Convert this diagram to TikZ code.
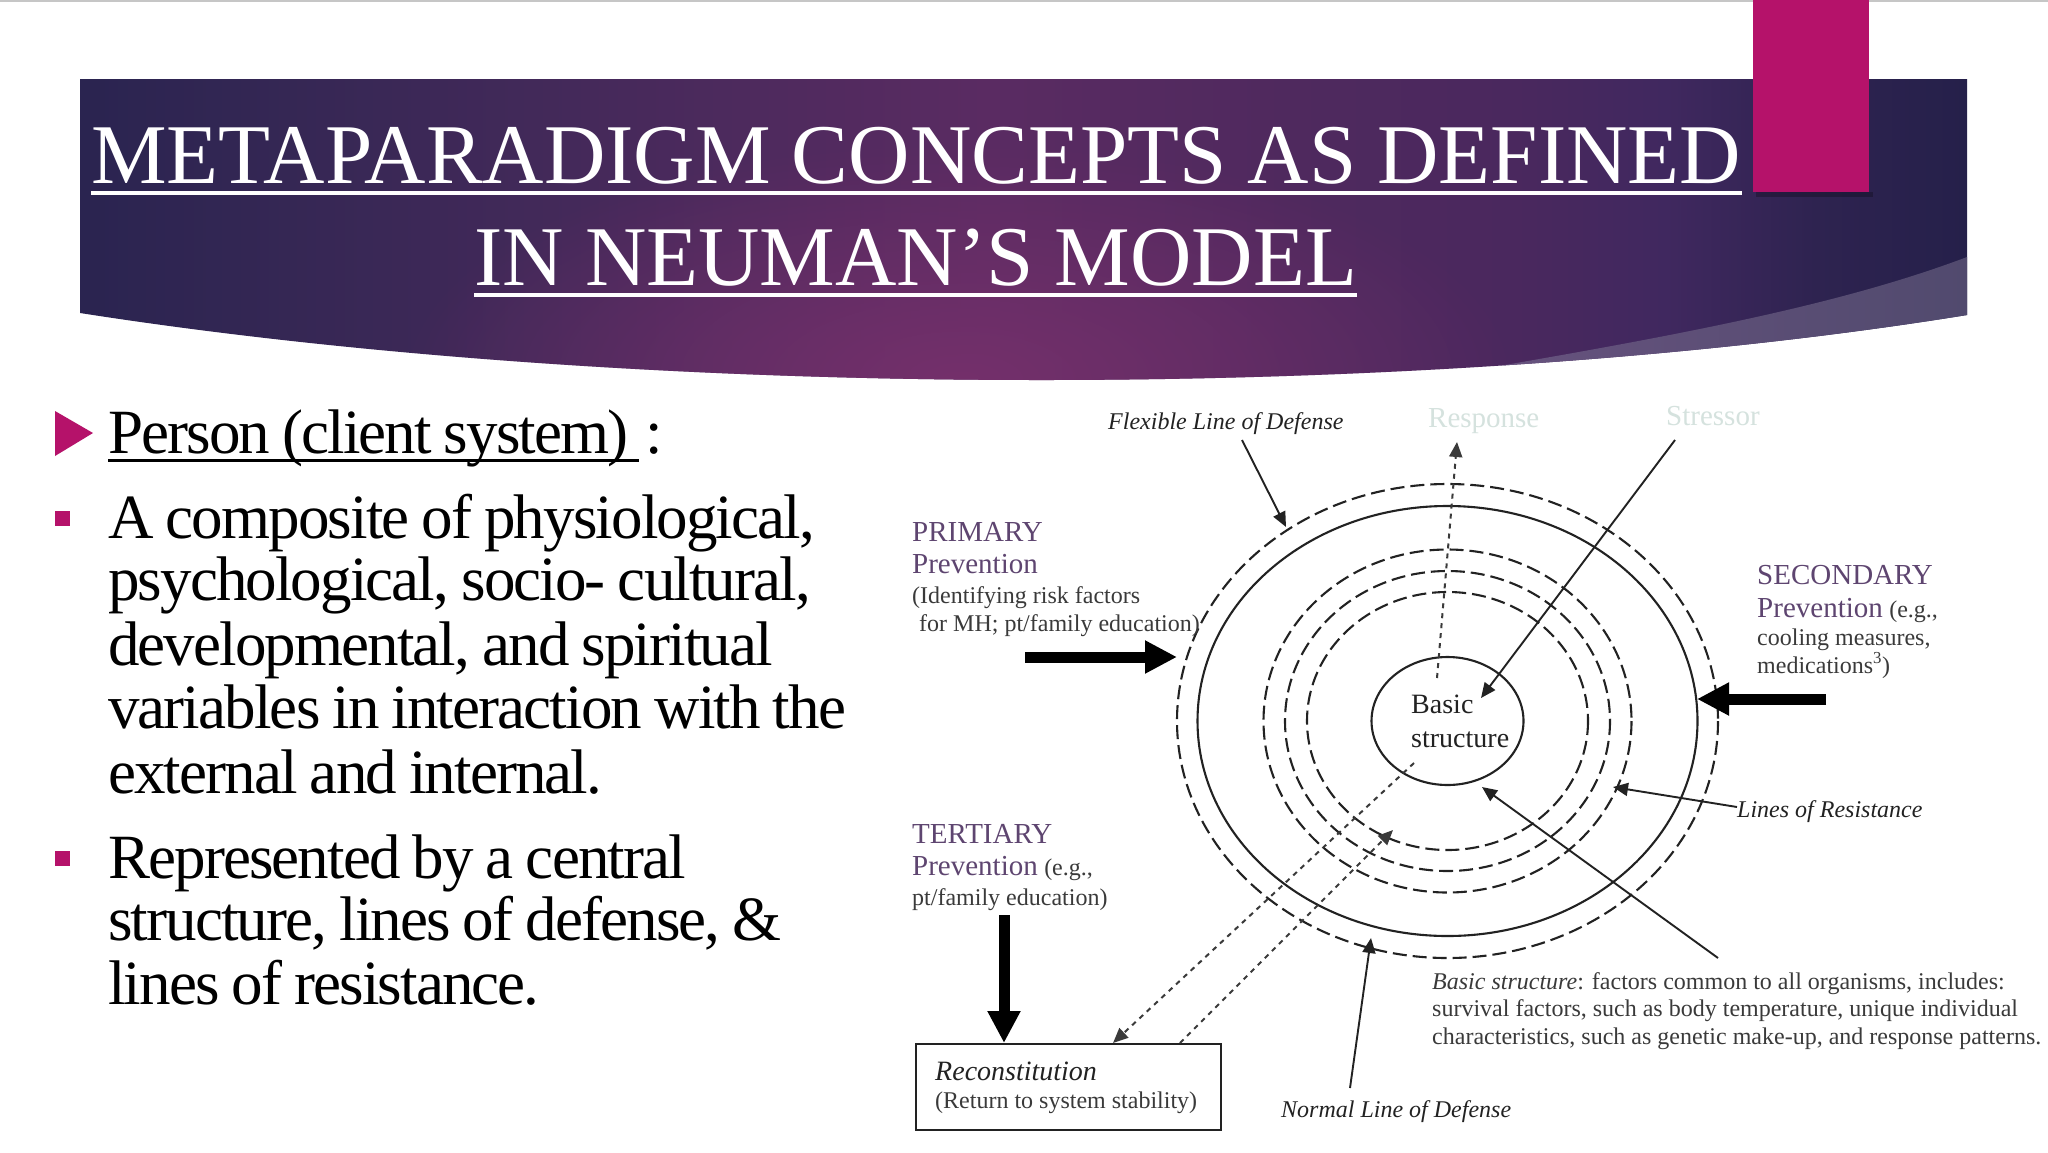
\documentclass[tikz,border=0pt]{standalone}
\usepackage{fontspec}
\usepackage{tikz}
\usepackage{xcolor}
\usetikzlibrary{arrows.meta,fadings}
\setmainfont{Liberation Serif}
\newfontfamily\bodyfont[LetterSpace=-3,WordSpace=0.87]{Liberation Serif}

\definecolor{barpink}{HTML}{B5126A}
\definecolor{inkgray}{HTML}{222222}
\definecolor{labelgray}{HTML}{3A3A3A}
\definecolor{stagepurple}{HTML}{5E4570}
\definecolor{palegreen}{HTML}{D5E2DE}
\definecolor{wedgelight}{HTML}{68537F}
\definecolor{wedgedark}{HTML}{514A6E}
\definecolor{glowtone}{HTML}{74306B}
\definecolor{bandA}{HTML}{2A2450}
\definecolor{bandB}{HTML}{3A2856}
\definecolor{bandC}{HTML}{5A2B62}
\definecolor{bandD}{HTML}{4F295E}
\definecolor{bandE}{HTML}{4A285E}
\definecolor{bandF}{HTML}{40285F}
\definecolor{bandG}{HTML}{2E2350}
\definecolor{bandH}{HTML}{25204A}

\pgfdeclarehorizontalshading{bannerfill}{100bp}{
  color(0bp)=(bandA); color(25bp)=(bandA); color(33bp)=(bandB);
  color(49bp)=(bandC); color(57bp)=(bandD); color(63bp)=(bandE);
  color(67bp)=(bandF); color(71bp)=(bandG); color(75bp)=(bandH);
  color(100bp)=(bandH)}
\tikzfading[name=glowfade,inner color=transparent!0,outer color=transparent!100]

\tikzset{
  title/.style={anchor=base west,inner sep=0,text=white,font=\fontsize{85}{85}\selectfont},
  body/.style={anchor=base west,inner sep=0,text=black,font=\bodyfont\fontsize{63}{63}\selectfont},
  stage/.style={anchor=base west,inner sep=0,text=stagepurple,font=\fontsize{29}{29}\selectfont},
  pale/.style={anchor=base west,inner sep=0,text=palegreen,font=\fontsize{29}{29}\selectfont},
  core/.style={anchor=base west,inner sep=0,text=inkgray,font=\fontsize{28}{28}\selectfont},
  note/.style={anchor=base west,inner sep=0,text=labelgray,font=\fontsize{24}{24}\selectfont},
  slant/.style={anchor=base west,inner sep=0,text=inkgray,font=\itshape\fontsize{24}{24}\selectfont},
  thinarrow/.style={inkgray,line width=1.9,-{Triangle[width=13,length=15]}},
  fatarrow/.style={black,line width=11,-{Triangle[width=31,length=32]}},
  dashring/.style={inkgray,line width=2.1,dash pattern=on 14pt off 6pt},
  solidring/.style={inkgray,line width=2.1},
  spotline/.style={labelgray,line width=2,dash pattern=on 5pt off 5pt,-{Triangle[width=13,length=15]}}
}

\begin{document}
\begin{tikzpicture}[x=1pt,y=-1pt]
    \useasboundingbox (0,0) rectangle (2048,1152);
    \fill [white] (0,0) rectangle (2048,1152);
    \fill [gray!45] (0,0) rectangle (2048,1.5);

    % Banner
    \shade [shading=bannerfill] (80,79) -- (1967,79) -- (1967,315)
    .. controls (1430,402) and (650,402) .. (80,313) -- cycle;
    \begin{scope}
      \clip (80,79) -- (1967,79) -- (1967,315)
      .. controls (1430,402) and (650,402) .. (80,313) -- cycle;
      \fill [glowtone,path fading=glowfade] (960,380) ellipse [x radius=560,y radius=240];
      \shade [left color=wedgelight,right color=wedgedark]
      (1470,371) .. controls (1680,335) and (1840,305) .. (1967,257)
      -- (1967,400) -- (1470,400) -- cycle;
    \end{scope}
    \fill [black,opacity=0.25] (1756,192) rectangle (1873,197);
    \fill [barpink] (1753,0) rectangle (1869,192);

    % Title
    \node (TitleA) at (91,183) [title] {METAPARADIGM CONCEPTS AS DEFINED};
    \node (TitleB) at (474,285) [title] {IN NEUMAN’S MODEL};
    \draw [white,line width=3.5] ([yshift=-10pt]TitleA.base west) to ([yshift=-10pt]TitleA.base east);
    \draw [white,line width=3.5] ([yshift=-10pt]TitleB.base west) to ([yshift=-10pt]TitleB.base east);

    % Bullets
    \fill [barpink] (55,411) -- (93,433) -- (55,456) -- cycle;
    \fill [barpink] (55,511) rectangle (70,526);
    \fill [barpink] (55,851) rectangle (70,866);

    % Left text
    \node (PersonHead) at (108,453) [body] {Person (client system)\,};
    \node (PersonColon) at (645,453) [body] {:};
    \draw [black,line width=3] ([yshift=-7pt]PersonHead.base west) to ([yshift=-7pt]PersonHead.base east);
    \node (LineA) at (108,538) [body] {A composite of physiological,};
    \node (LineB) at (108,600) [body] {psychological, socio- cultural,};
    \node (LineC) at (108,665) [body] {developmental, and spiritual};
    \node (LineD) at (108,728) [body] {variables in interaction with the};
    \node (LineE) at (108,793) [body] {external and internal.};
    \node (LineF) at (108,878) [body] {Represented by a central};
    \node (LineG) at (108,940) [body] {structure, lines of defense, \&};
    \node (LineH) at (108,1004) [body] {lines of resistance.};

    % Rings
    \coordinate (Hub) at (1447.5,721);
    \draw [dashring] (Hub) ellipse [x radius=270.5,y radius=237];
    \draw [solidring] (Hub) ellipse [x radius=250,y radius=215];
    \draw [dashring] (Hub) ellipse [x radius=184,y radius=171.5];
    \draw [dashring] (Hub) ellipse [x radius=162.5,y radius=150];
    \draw [dashring] (Hub) ellipse [x radius=140.5,y radius=129];
    \draw [solidring] (Hub) ellipse [x radius=76,y radius=64];
    \node (CoreA) at (1411,713) [core] {Basic};
    \node (CoreB) at (1411,747) [core] {structure};

    % Top labels
    \node (FlexLabel) at (1108,429) [slant] {Flexible Line of Defense};
    \node (ResponseLabel) at (1428,427) [pale] {Response};
    \node (StressorLabel) at (1666,425) [pale] {Stressor};

    % Primary
    \node (PrimaryA) at (912,541) [stage] {PRIMARY};
    \node (PrimaryB) at (912,573) [stage] {Prevention};
    \node (PrimaryC) at (912,603) [note] {(Identifying risk factors};
    \node (PrimaryD) at (919,631) [note] {for MH; pt/family education)};

    % Secondary
    \node (SecondA) at (1757,584) [stage] {SECONDARY};
    \node (SecondB) at (1757,617) [stage] {Prevention};
    \node (SecondBx) at (SecondB.base east) [note,xshift=6pt] {(e.g.,};
    \node (SecondC) at (1757,645) [note] {cooling measures,};
    \node (SecondD) at (1757,673) [note] {medications\textsuperscript{3})};

    % Tertiary
    \node (ThirdA) at (912,843) [stage] {TERTIARY};
    \node (ThirdB) at (912,875) [stage] {Prevention};
    \node (ThirdBx) at (ThirdB.base east) [note,xshift=6pt] {(e.g.,};
    \node (ThirdC) at (912,905) [note] {pt/family education)};

    % Reconstitution box
    \draw [inkgray,line width=2] (916,1044) rectangle (1221,1130);
    \node (ReconA) at (935,1080) [core,font=\itshape\fontsize{28}{28}\selectfont] {Reconstitution};
    \node (ReconB) at (935,1108) [note] {(Return to system stability)};

    % Right and bottom labels
    \node (ResistLabel) at (1737,817) [slant] {Lines of Resistance};
    \node (NormalLabel) at (1281,1117) [slant] {Normal Line of Defense};
    \node (NoteA) at (1432,989) [note] {\textit{Basic structure}: factors common to all organisms, includes:};
    \node (NoteB) at (1432,1016) [note] {survival factors, such as body temperature, unique individual};
    \node (NoteC) at (1432,1044) [note] {characteristics, such as genetic make-up, and response patterns.};

    % Arrow ends
    \coordinate (FlexTail) at (1242,440);
    \coordinate (FlexTip) at (1286,527);
    \coordinate (ResponseTail) at (1437,678);
    \coordinate (ResponseTip) at (1457,442);
    \coordinate (StressTail) at (1675,440);
    \coordinate (StressTip) at (1481,698);
    \coordinate (PrimaryTail) at (1025,657);
    \coordinate (PrimaryTip) at (1177,657);
    \coordinate (SecondTail) at (1826,699);
    \coordinate (SecondTip) at (1697,699);
    \coordinate (ThirdTail) at (1004,915);
    \coordinate (ThirdTip) at (1004,1043);
    \coordinate (NormalTail) at (1350,1088);
    \coordinate (NormalTip) at (1371,938);
    \coordinate (ResistTail) at (1737,807);
    \coordinate (ResistTip) at (1613,787);
    \coordinate (NoteTail) at (1718,958);
    \coordinate (NoteTip) at (1482,787);
    \coordinate (BackTail) at (1414,763);
    \coordinate (BackTip) at (1113,1043);
    \coordinate (OutTail) at (1180,1043);
    \coordinate (OutTip) at (1393,830);

    % Thin arrows
    \draw [thinarrow] (FlexTail) to (FlexTip);
    \draw [thinarrow] (StressTail) to (StressTip);
    \draw [thinarrow] (NormalTail) to (NormalTip);
    \draw [thinarrow] (ResistTail) to (ResistTip);
    \draw [thinarrow] (NoteTail) to (NoteTip);

    % Response and return paths
    \draw [spotline] (ResponseTail) to (ResponseTip);
    \draw [spotline] (BackTail) to (BackTip);
    \draw [spotline] (OutTail) to (OutTip);

    % Prevention arrows
    \draw [fatarrow] (PrimaryTail) to (PrimaryTip);
    \draw [fatarrow] (SecondTail) to (SecondTip);
    \draw [fatarrow] (ThirdTail) to (ThirdTip);
\end{tikzpicture}
\end{document}
